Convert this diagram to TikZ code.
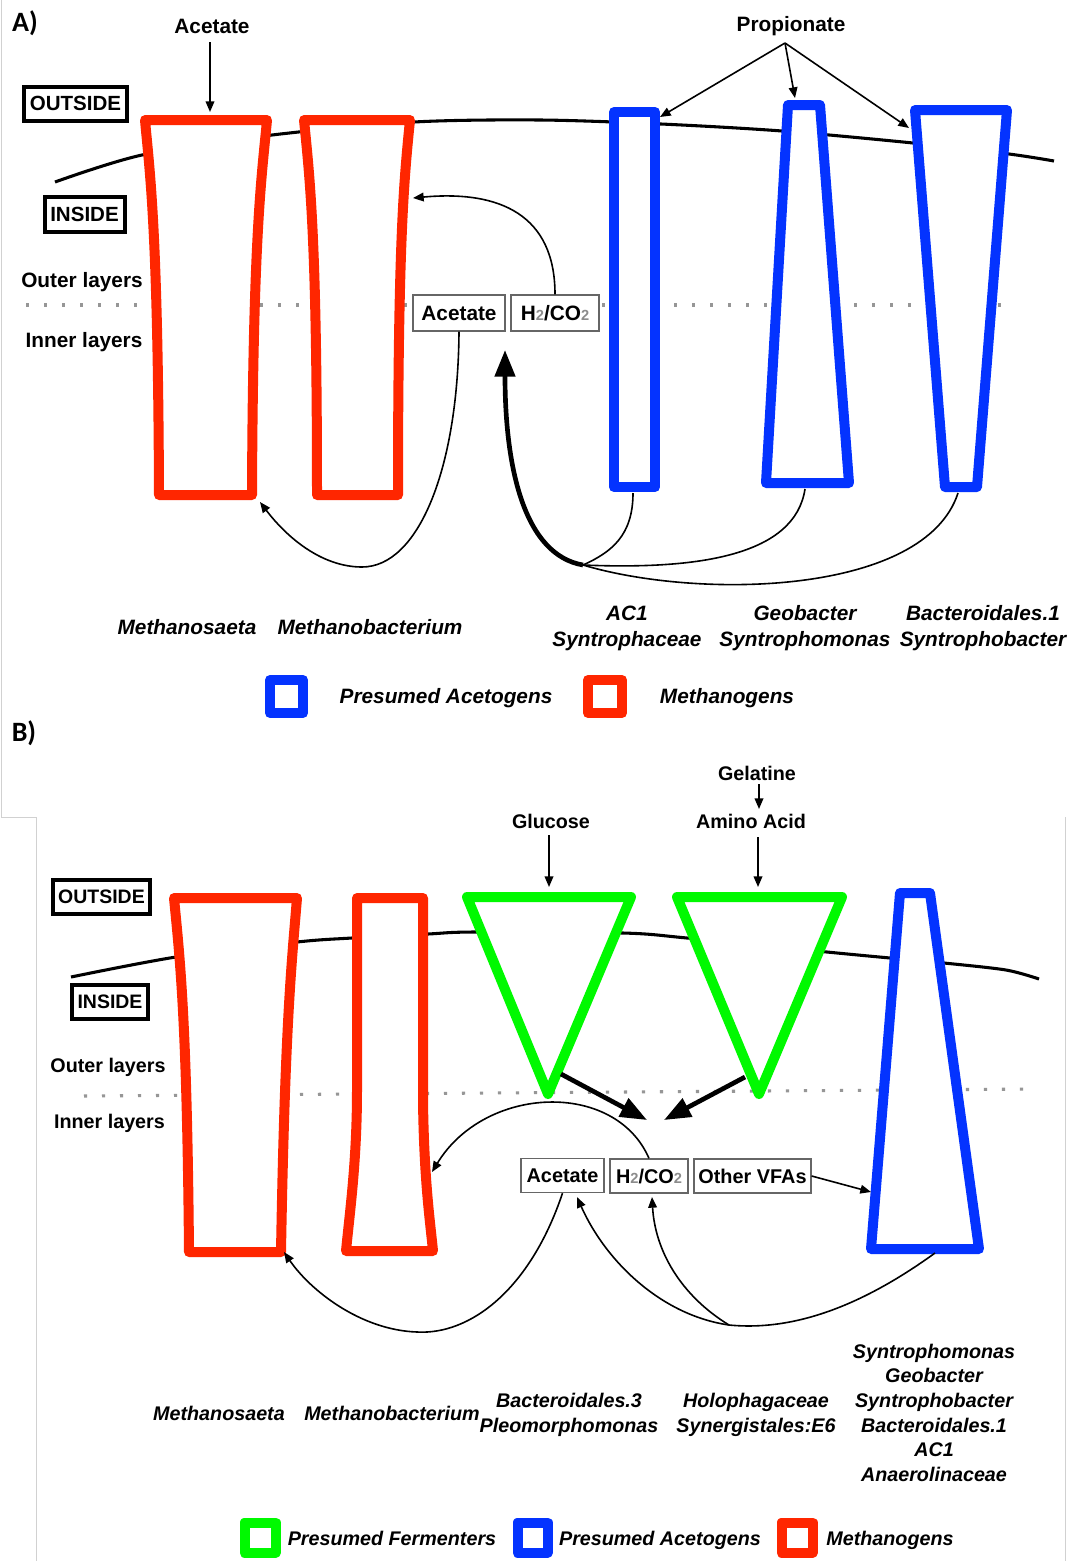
\documentclass[tikz,border=0pt]{standalone}
\usepackage{fontspec}
\setmainfont{Liberation Sans}
\newfontfamily\panelfont{Carlito}
\usetikzlibrary{arrows.meta}
\definecolor{mred}{RGB}{255,38,0}
\definecolor{mblue}{RGB}{4,51,255}
\definecolor{mgreen}{RGB}{0,249,0}
\definecolor{dotgray}{RGB}{150,150,150}
\newcommand\mytwo{{\color{black!45}\fontsize{11}{11}\selectfont 2}}
\begin{document}
\begin{tikzpicture}[x=0.75pt,y=-0.75pt,
  org/.style={draw=#1, fill=white, line width=7.5pt, line join=round},
  mem/.style={line width=2.3pt},
  dots/.style={dotgray, line width=2.3pt, dash pattern=on 2.3pt off 11.2pt},
  thinarr/.style={line width=1.2pt, -{Triangle[length=8pt,width=6.5pt]}},
  thinline/.style={line width=1.2pt},
  thickarr/.style={line width=3.5pt, -{Triangle[length=20pt,width=15pt]}},
  lblA/.style={font=\fontsize{15.6}{18}\selectfont\bfseries, anchor=base, inner sep=0pt},
  spA/.style={font=\fontsize{15.6}{18}\selectfont\bfseries\itshape, anchor=base, inner sep=0pt},
  lblB/.style={font=\fontsize{14.8}{18}\selectfont\bfseries, anchor=base, inner sep=0pt},
  spB/.style={font=\fontsize{14.8}{18}\selectfont\bfseries\itshape, anchor=base, inner sep=0pt},
  sideboxA/.style={draw, line width=3pt, inner sep=0pt, font=\fontsize{15.4}{18}\selectfont\bfseries},
  sideboxB/.style={draw, line width=3pt, inner sep=0pt, font=\fontsize{14.6}{18}\selectfont\bfseries},
  cboxA/.style={draw=black!60, line width=1pt, fill=white, inner sep=0pt, minimum height=27pt, font=\fontsize{15.6}{18}\selectfont\bfseries},
  cboxB/.style={draw=black!60, line width=1pt, fill=white, inner sep=0pt, minimum height=25.5pt, font=\fontsize{14.9}{18}\selectfont\bfseries},
  panel/.style={font=\panelfont\fontsize{21}{22}\selectfont\bfseries, inner sep=0pt},
  frame/.style={black!18, line width=0.75pt}
]
\useasboundingbox (0,0) rectangle (1069,1561);
\fill[white] (0,0) rectangle (1069,1561);
% faint panel frames
\draw[frame] (1,0) -- (1,817) -- (36,817) -- (36,1561);
\draw[frame] (1065,817) -- (1065,1561);

% ================= PANEL A =================
\node[panel] (labA) at (25,23) {A)};
\draw[mem] plot[smooth] coordinates {(55,182) (142,155) (272,135) (414,122) (540,120) (661,124) (782,131) (913,143) (1009,154) (1054,161)};
\draw[dots] (26,305) -- (1005,305);

% methanogens (red)
\draw[org=mred] (145,120) -- (267,120) .. controls (262,175) and (253,230) .. (252,495) -- (159,495) .. controls (158,230) and (150,175) .. (145,120) -- cycle;
\draw[org=mred] (304,120) -- (410,120) .. controls (404,180) and (398,240) .. (398,495) -- (317,495) .. controls (317,240) and (310,180) .. (304,120) -- cycle;
% acetogens (blue)
\draw[org=mblue] (614,112) rectangle (655,487);
\draw[org=mblue] (788,105) -- (820,105) -- (849,483) -- (766,483) -- cycle;
\draw[org=mblue] (915,110) -- (1007,110) -- (977,487) -- (945,487) -- cycle;

\node[sideboxA, minimum width=77.25pt, minimum height=25.5pt] (outA) at (75.5,103.5) {OUTSIDE};
\node[sideboxA, minimum width=60pt, minimum height=26.25pt] (inA) at (84.5,214) {INSIDE};
\node[lblA] (outerA) at (82,287) {Outer layers};
\node[lblA] (innerA) at (84,347) {Inner layers};

\node[cboxA, minimum width=69pt] (accA) at (459,313) {Acetate};
\node[cboxA, minimum width=66pt] (h2A) at (555,313) {H\mytwo/CO\mytwo};

\node[lblA] (acTop) at (212,33) {Acetate};
\node[lblA] (prop) at (791,31) {Propionate};

\coordinate (acTopS) at (210,42);
\coordinate (r1top) at (210,112);
\coordinate (propS) at (785,43);
\coordinate (b1tip) at (660,117);
\coordinate (b2tip) at (795,98);
\coordinate (b3tip) at (909,128);
\coordinate (r2side) at (413,198);
\coordinate (r1corn) at (260,502);
\coordinate (hubA) at (583,565);
\coordinate (thickTipA) at (505,350);
\coordinate (b1bot) at (633,493);
\coordinate (b2bot) at (805,489);
\coordinate (b3bot) at (958,493);

\draw[thinarr] (acTopS) -- (r1top);
\draw[thinarr] (propS) -- (b1tip);
\draw[thinarr] (propS) -- (b2tip);
\draw[thinarr] (propS) -- (b3tip);
\draw[thinarr] (h2A.north) .. controls (555,215) and (500,190) .. (r2side);
\draw[thinarr] (accA.south) .. controls (458,470) and (418,567) .. (362,567) .. controls (320,567) and (285,535) .. (r1corn);
\draw[thinline] (b1bot) .. controls (633,535) and (612,552) .. (hubA);
\draw[thinline] (b2bot) .. controls (795,555) and (700,570) .. (hubA);
\draw[thinline] (b3bot) .. controls (925,595) and (700,600) .. (hubA);
\draw[thickarr] (hubA) .. controls (525,555) and (505,470) .. (thickTipA);

\node[spA] (msA) at (187,634) {Methanosaeta};
\node[spA] (mbA) at (370,634) {Methanobacterium};
\node[spA] (ac1A) at (627,620) {AC1};
\node[spA] (syA) at (627,646) {Syntrophaceae};
\node[spA] (geoA) at (805,620) {Geobacter};
\node[spA] (symA) at (805,646) {Syntrophomonas};
\node[spA] (bacA) at (983,620) {Bacteroidales.1};
\node[spA] (sybA) at (983,646) {Syntrophobacter};

\draw[org=mblue] (270,680) rectangle (303,713);
\node[spA] (legAcA) at (446,703) {Presumed Acetogens};
\draw[org=mred] (588,680) rectangle (622,713);
\node[spA] (legMeA) at (727,703) {Methanogens};

% ================= PANEL B =================
\node[panel] (labB) at (24,733) {B)};
\draw[mem] plot[smooth] coordinates {(71,977) (176,957) (297,942) (352,938) (428,934) (474,932) (623,933) (687,938) (827,952) (890,958) (944,963) (1006,970) (1039,979)};
\draw[dots] (84,1096) -- (1034,1089);

\draw[org=mred] (174,898) -- (297,898) .. controls (292,960) and (285,1020) .. (281,1252) -- (189,1252) .. controls (187,1020) and (180,960) .. (174,898) -- cycle;
\draw[org=mred] (357,898) -- (423,898) -- (423,1100) .. controls (424,1180) and (430,1220) .. (433,1251) -- (346,1251) .. controls (350,1210) and (357,1160) .. (357,1090) -- cycle;
\draw[org=mgreen] (467,897) -- (631,897) -- (548,1094) -- cycle;
\draw[org=mgreen] (677,897) -- (842,897) -- (759,1094) -- cycle;
\draw[org=mblue] (900,893) -- (930,893) -- (979,1249) -- (871,1249) -- cycle;

\node[sideboxB, minimum width=72.75pt, minimum height=25.5pt] (outB) at (101.5,897) {OUTSIDE};
\node[sideboxB, minimum width=57pt, minimum height=25.5pt] (inB) at (110,1002) {INSIDE};
\node[lblB] (outerB) at (108,1072) {Outer layers};
\node[lblB] (innerB) at (109.5,1128) {Inner layers};

\node[lblB] (glc) at (551,828) {Glucose};
\node[lblB] (gel) at (757,780) {Gelatine};
\node[lblB] (amino) at (751,828) {Amino Acid};

\node[cboxB, minimum width=62.25pt] (accB) at (562.5,1175.5) {Acetate};
\node[cboxB, minimum width=58.5pt] (h2B) at (649,1176) {H\mytwo/CO\mytwo};
\node[cboxB, minimum width=87.75pt] (vfaB) at (752.5,1176) {Other VFAs};

\coordinate (glcS) at (549,835);
\coordinate (glcE) at (549,887);
\coordinate (gelS) at (759,784);
\coordinate (gelE) at (759,809);
\coordinate (amS) at (758,837);
\coordinate (amE) at (758,887);
\coordinate (t1arm) at (561,1074);
\coordinate (t1tip) at (647,1120);
\coordinate (t2arm) at (745,1077);
\coordinate (t2tip) at (664,1120);
\coordinate (r2sideB) at (432,1172);
\coordinate (r1cornB) at (284,1252);
\coordinate (blueSideB) at (871,1192);
\coordinate (blueBotB) at (935,1253);
\coordinate (hubB) at (729,1325);
\coordinate (accTipB) at (577,1197);
\coordinate (h2TipB) at (652,1197);

\draw[thinarr] (glcS) -- (glcE);
\draw[thinarr] (gelS) -- (gelE);
\draw[thinarr] (amS) -- (amE);
\draw[thickarr] (t1arm) -- (t1tip);
\draw[thickarr] (t2arm) -- (t2tip);
\draw[thinarr] (h2B.north) .. controls (615,1080) and (485,1085) .. (r2sideB);
\draw[thinarr] (accB.south) .. controls (530,1290) and (470,1335) .. (417,1332) .. controls (360,1330) and (310,1290) .. (r1cornB);
\draw[thinarr] (vfaB.east) -- (blueSideB);
\draw[thinline] (blueBotB) .. controls (870,1300) and (800,1332) .. (hubB);
\draw[thinarr] (hubB) .. controls (660,1315) and (605,1260) .. (accTipB);
\draw[thinarr] (hubB) .. controls (680,1295) and (655,1250) .. (h2TipB);

\node[spB] (msB) at (219,1420) {Methanosaeta};
\node[spB] (mbB) at (392,1420) {Methanobacterium};
\node[spB] (bac3) at (569,1407) {Bacteroidales.3};
\node[spB] (pleo) at (569,1432) {Pleomorphomonas};
\node[spB] (holo) at (756,1407) {Holophagaceae};
\node[spB] (syne) at (756,1432) {Synergistales:E6};
\node[spB] (c1) at (934,1358) {Syntrophomonas};
\node[spB] (c2) at (934,1382) {Geobacter};
\node[spB] (c3) at (934,1407) {Syntrophobacter};
\node[spB] (c4) at (934,1432) {Bacteroidales.1};
\node[spB] (c5) at (934,1456) {AC1};
\node[spB] (c6) at (934,1481) {Anaerolinaceae};

\draw[org=mgreen] (244.5,1522.5) rectangle (275.5,1552.5);
\node[spB] (legFe) at (392,1545) {Presumed Fermenters};
\draw[org=mblue] (517.5,1522.5) rectangle (547.5,1552.5);
\node[spB] (legAcB) at (660,1545) {Presumed Acetogens};
\draw[org=mred] (781.5,1522.5) rectangle (812.5,1552.5);
\node[spB] (legMeB) at (890,1545) {Methanogens};
\end{tikzpicture}
\end{document}
